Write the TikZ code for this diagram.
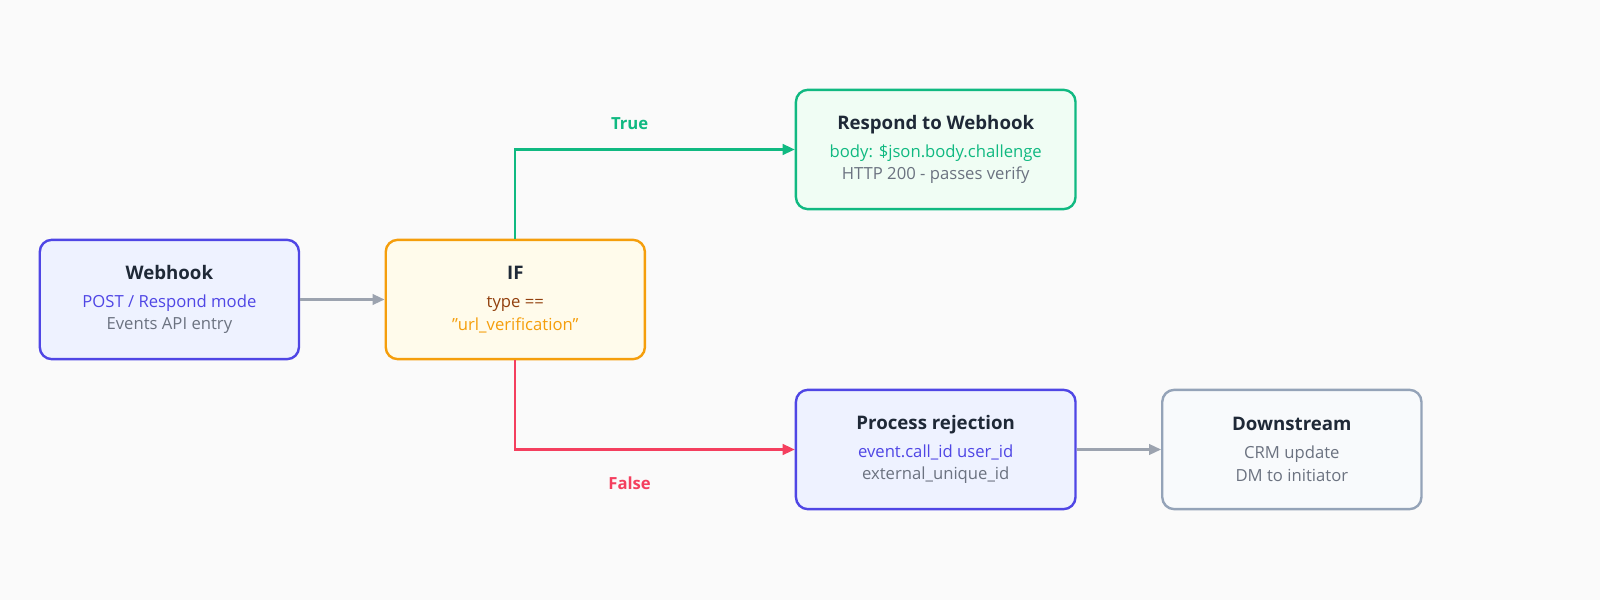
\documentclass[tikz,border=0pt]{standalone}
\usepackage{fontspec}
\setmainfont{Open Sans}
\usetikzlibrary{arrows.meta}
\definecolor{bg}{HTML}{FAFAFA}
\definecolor{indigo}{HTML}{4F46E5}
\definecolor{indigofill}{HTML}{EEF2FF}
\definecolor{amber}{HTML}{F59E0B}
\definecolor{amberfill}{HTML}{FFFBEB}
\definecolor{brown}{HTML}{92400E}
\definecolor{green}{HTML}{10B981}
\definecolor{greenfill}{HTML}{F0FDF4}
\definecolor{slate}{HTML}{94A3B8}
\definecolor{slatefill}{HTML}{F8FAFC}
\definecolor{rose}{HTML}{F43F5E}
\definecolor{titlec}{HTML}{1F2937}
\definecolor{subc}{HTML}{6B7280}
\definecolor{arrowc}{HTML}{9CA3AF}
\tikzset{
  x=0.7653pt,y=-0.7653pt,
  box/.style={rounded corners=9pt,line width=1.8pt,minimum width=194.4pt,minimum height=89.5pt,align=center,inner sep=0pt,font=\fontsize{12.5}{17}\selectfont},
  conn/.style={line width=1.6pt,-{Triangle[length=9pt,width=8pt]}},
}
\newcommand{\ttlx}[1]{{\fontsize{14}{17}\selectfont\bfseries\color{titlec}#1}\\[4pt]}
\begin{document}
\begin{tikzpicture}
\fill[bg] (0,0) rectangle (1568,588);
\useasboundingbox (0,0) rectangle (1568,588);
\node[box,draw=indigo,fill=indigofill] (wh) at (166,293.5) {\ttlx{Webhook}\color{indigo}POST / Respond mode\\\color{subc}Events API entry};
\node[box,draw=amber,fill=amberfill] (if) at (505,293.5) {\ttlx{IF}\color{brown}type ==\\\color{amber}\symbol{34}url\_verification\symbol{34}};
\node[box,draw=green,fill=greenfill,minimum width=209.7pt] (rs) at (917,146.5) {\ttlx{Respond to Webhook}\color{green}body: \$json.body.challenge\\\color{subc}HTTP 200 - passes verify};
\node[box,draw=indigo,fill=indigofill,minimum width=209.7pt] (pr) at (917,440.5) {\ttlx{Process rejection}\color{indigo}event.call\_id user\_id\\\color{subc}external\_unique\_id};
\node[box,draw=slate,fill=slatefill] (ds) at (1266,440.5) {\ttlx{Downstream}\color{subc}CRM update\\\color{subc}DM to initiator};
\draw[conn,arrowc] (wh) -- (if);
\draw[conn,green] (if.north) |- (rs.west);
\draw[conn,rose] (if.south) |- (pr.west);
\draw[conn,arrowc] (pr) -- (ds);
\node[font=\fontsize{12.5}{14}\selectfont\bfseries,text=green] (tl) at (617,121) {True};
\node[font=\fontsize{12.5}{14}\selectfont\bfseries,text=rose] (fl) at (617,474) {False};
\end{tikzpicture}
\end{document}
